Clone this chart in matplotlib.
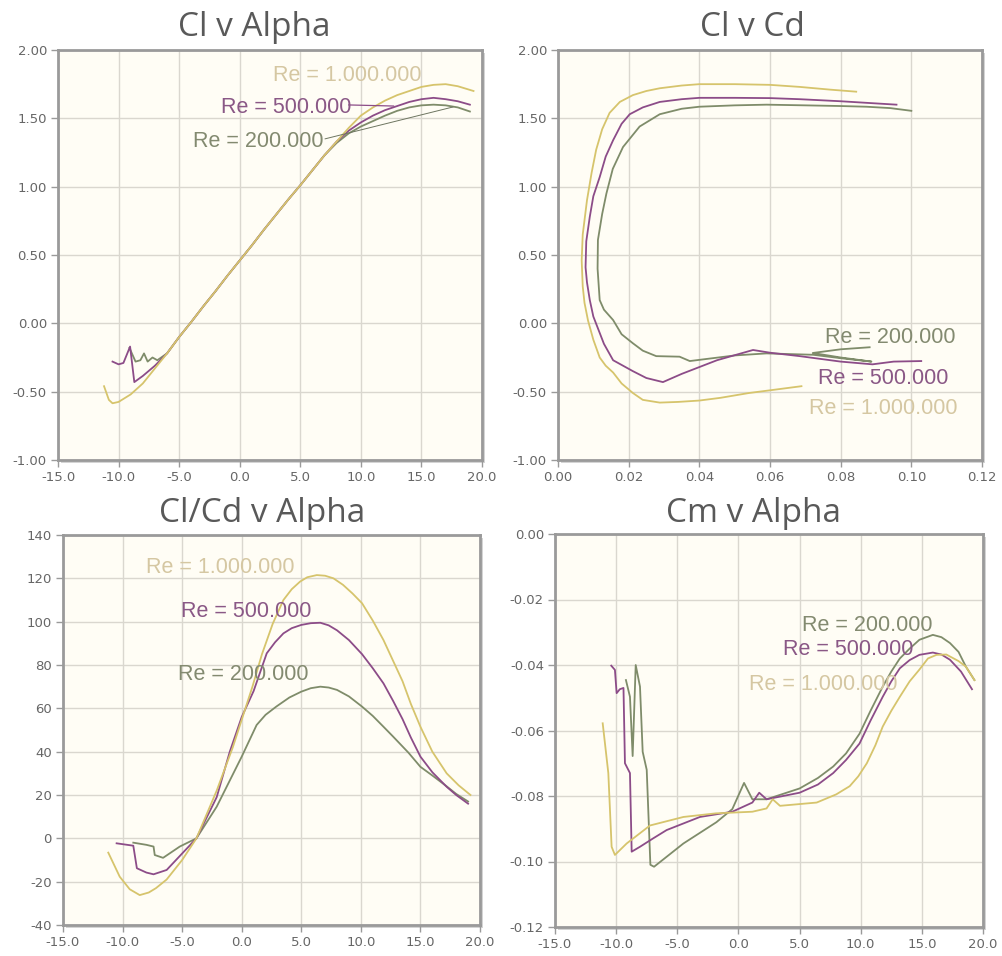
import numpy as np
import matplotlib.pyplot as plt
from matplotlib.patches import Rectangle
from matplotlib.ticker import FormatStrFormatter

# colours of the three Reynolds numbers
c_1m, c_500k, c_200k = '#d6c46c', '#8c4c88', '#7f8c6a'
t_1m, t_500k, t_200k = '#d5c7a2', '#8a5886', '#838a70'
labels = ['Re = 1.000.000', 'Re = 500.000', 'Re = 200.000']

# ---- Cl v Alpha
cl_a_1m = [-11.2, -10.8, -10.5, -10.0, -9.0, -8.0, -7.0, -6.0, -5.0, -4.0, -3.0, -2.0, -1.0, 0.0, 1.0,
           2.0, 3.0, 4.0, 5.0, 6.0, 7.0, 8.0, 9.0, 10.0, 11.0, 12.0, 13.0, 14.0, 15.0, 16.0, 17.0, 18.0, 19.3]
cl_1m = [-0.46, -0.56, -0.585, -0.575, -0.52, -0.44, -0.33, -0.22, -0.10, 0.01, 0.125, 0.235, 0.35, 0.46, 0.57,
         0.685, 0.795, 0.905, 1.01, 1.12, 1.23, 1.33, 1.43, 1.52, 1.58, 1.63, 1.67, 1.70, 1.73, 1.745, 1.75, 1.735, 1.70]
cl_a_500k = [-10.5, -10.0, -9.6, -9.05, -8.7, -8.0, -7.0, -6.0, -5.0, -4.0, -3.0, -2.0, -1.0, 0.0, 1.0,
             2.0, 3.0, 4.0, 5.0, 6.0, 7.0, 8.0, 9.0, 10.0, 11.0, 12.0, 13.0, 14.0, 15.0, 16.0, 17.0, 18.0, 19.0]
cl_500k = [-0.28, -0.30, -0.29, -0.17, -0.43, -0.385, -0.31, -0.22, -0.10, 0.01, 0.125, 0.235, 0.35, 0.46, 0.57,
           0.685, 0.795, 0.905, 1.01, 1.12, 1.23, 1.33, 1.41, 1.47, 1.52, 1.56, 1.59, 1.62, 1.64, 1.65, 1.64, 1.625, 1.60]
cl_a_200k = [-9.1, -8.6, -8.2, -7.9, -7.6, -7.2, -6.8, -6.0, -5.0, -4.0, -3.0, -2.0, -1.0, 0.0, 1.0,
             2.0, 3.0, 4.0, 5.0, 6.0, 7.0, 8.0, 9.0, 10.0, 11.0, 12.0, 13.0, 14.0, 15.0, 16.0, 17.0, 18.0, 19.0]
cl_200k = [-0.18, -0.28, -0.27, -0.22, -0.28, -0.25, -0.27, -0.22, -0.10, 0.01, 0.125, 0.235, 0.35, 0.46, 0.57,
           0.685, 0.795, 0.905, 1.01, 1.12, 1.23, 1.32, 1.39, 1.44, 1.48, 1.52, 1.555, 1.58, 1.595, 1.60, 1.595, 1.58, 1.55]

# ---- Cl v Cd
cd_1m = [0.0689, 0.060, 0.054, 0.046, 0.040, 0.034, 0.0288, 0.024, 0.0212, 0.018, 0.0156, 0.0135, 0.0118, 0.0100,
         0.0085, 0.0075, 0.0070, 0.0067, 0.0070, 0.0082, 0.0095, 0.0108, 0.0125, 0.0146, 0.0175, 0.0212, 0.0250,
         0.0288, 0.035, 0.040, 0.050, 0.060, 0.0684, 0.077, 0.0844]
cd_cl_1m = [-0.46, -0.49, -0.51, -0.545, -0.565, -0.575, -0.58, -0.56, -0.51, -0.44, -0.36, -0.31, -0.25, -0.12,
            0.02, 0.15, 0.27, 0.46, 0.65, 0.90, 1.10, 1.27, 1.42, 1.54, 1.62, 1.67, 1.70,
            1.72, 1.74, 1.75, 1.75, 1.745, 1.73, 1.71, 1.695]
cd_500k = [0.1028, 0.095, 0.089, 0.080, 0.0684, 0.060, 0.0552, 0.045, 0.035, 0.0297, 0.025, 0.0212, 0.0156, 0.0130,
           0.0118, 0.010, 0.009, 0.0082, 0.0078, 0.0080, 0.0090, 0.0100, 0.0118, 0.0135, 0.0156, 0.018, 0.0203,
           0.024, 0.0288, 0.035, 0.040, 0.050, 0.060, 0.0684, 0.080, 0.0958]
cd_cl_500k = [-0.276, -0.28, -0.30, -0.28, -0.24, -0.215, -0.195, -0.27, -0.37, -0.43, -0.40, -0.35, -0.27, -0.15,
              -0.07, 0.05, 0.17, 0.30, 0.41, 0.60, 0.78, 0.93, 1.07, 1.22, 1.34, 1.46, 1.53,
              1.58, 1.62, 1.64, 1.65, 1.65, 1.648, 1.64, 1.625, 1.60]
cd_200k = [0.0882, 0.080, 0.0721, 0.080, 0.0887, 0.080, 0.0722, 0.059, 0.050, 0.0373, 0.0344, 0.0278, 0.0240,
           0.0212, 0.018, 0.0156, 0.0130, 0.0118, 0.0112, 0.0113, 0.0125, 0.0137, 0.0155, 0.0184, 0.0231, 0.0288,
           0.035, 0.040, 0.050, 0.059, 0.070, 0.080, 0.0873, 0.094, 0.100]
cd_cl_200k = [-0.175, -0.19, -0.217, -0.25, -0.28, -0.255, -0.23, -0.22, -0.235, -0.276, -0.244, -0.24, -0.20,
              -0.146, -0.08, 0.024, 0.10, 0.17, 0.40, 0.61, 0.80, 0.95, 1.13, 1.29, 1.44, 1.53,
              1.57, 1.585, 1.595, 1.60, 1.595, 1.59, 1.585, 1.575, 1.555]

# ---- Cl/Cd v Alpha
ld_a_1m = [-11.2, -10.24, -9.4, -8.56, -7.8, -7.2, -6.3, -5.0, -3.8, -2.1, -0.75, 0.9, 1.7, 2.6, 3.5, 4.2, 4.9,
           5.5, 6.3, 7.0, 7.7, 8.5, 9.3, 10.1, 11.0, 11.9, 12.7, 13.5, 14.2, 15.0, 16.0, 17.2, 18.2, 19.2]
ld_1m = [-6.6, -17.7, -23.5, -26.2, -25.0, -23.0, -19.0, -10.0, 0.0, 22.0, 42.0, 70.0, 85.0, 99.0, 110.0, 115.0,
         118.5, 120.5, 121.5, 121.2, 120.0, 117.0, 113.0, 108.5, 100.5, 91.5, 82.0, 72.5, 62.0, 51.5, 40.0, 30.0,
         24.5, 20.0]
ld_a_500k = [-10.5, -9.1, -8.8, -8.0, -7.4, -6.3, -5.0, -3.8, -2.1, -1.0, 0.0, 1.0, 2.1, 2.8, 3.5, 4.2, 5.0,
             5.8, 6.6, 7.3, 8.0, 9.0, 10.1, 11.0, 11.9, 12.7, 13.5, 14.2, 15.0, 16.0, 17.2, 18.0, 19.0]
ld_500k = [-2.3, -3.4, -13.8, -15.8, -16.6, -14.6, -7.0, 0.0, 19.0, 40.0, 56.0, 68.0, 85.4, 90.5, 94.6, 97.0,
           98.5, 99.3, 99.5, 98.3, 96.0, 91.5, 85.0, 78.5, 71.5, 63.5, 55.0, 46.5, 37.7, 30.5, 23.8, 20.0, 16.0]
ld_a_200k = [-9.1, -8.0, -7.4, -7.3, -6.6, -5.2, -3.8, -2.1, 0.0, 1.25, 2.0, 2.9, 4.0, 5.0, 5.8, 6.6, 7.3, 8.0,
             9.0, 10.1, 11.0, 11.9, 12.7, 14.0, 15.0, 16.0, 17.2, 18.0, 19.0]
ld_200k = [-2.0, -3.0, -3.8, -7.7, -9.0, -3.8, 0.0, 14.6, 37.7, 52.3, 57.0, 60.8, 65.0, 67.7, 69.3, 70.0, 69.6,
           68.5, 65.5, 60.8, 56.5, 51.5, 47.0, 39.5, 33.0, 29.0, 24.0, 20.5, 17.0]

# ---- Cm v Alpha
cm_a_1m = [-11.1, -10.64, -10.37, -10.1, -9.14, -7.23, -4.5, -1.85, 1.14, 2.3, 2.8, 3.4, 6.4, 8.0, 9.1, 9.8,
           10.5, 11.2, 11.8, 12.5, 13.2, 14.0, 14.8, 15.5, 16.2, 17.0, 17.3, 18.0, 18.6, 19.3]
cm_1m = [-0.0578, -0.073, -0.0955, -0.098, -0.0945, -0.089, -0.0864, -0.0853, -0.0848, -0.0838, -0.081, -0.083,
         -0.082, -0.0795, -0.077, -0.074, -0.070, -0.0645, -0.0588, -0.054, -0.0497, -0.045, -0.0414, -0.038,
         -0.0369, -0.0368, -0.0374, -0.0388, -0.0405, -0.0446]
cm_a_500k = [-10.4, -10.1, -9.96, -9.7, -9.4, -9.28, -8.87, -8.73, -8.05, -7.0, -5.87, -3.15, -0.5, 1.14, 1.7,
             2.3, 5.0, 6.5, 7.75, 8.8, 9.9, 10.8, 11.8, 12.5, 13.2, 14.0, 14.8, 15.9, 16.6, 17.3, 18.2, 19.1]
cm_500k = [-0.0402, -0.0415, -0.0486, -0.0474, -0.047, -0.070, -0.073, -0.097, -0.0955, -0.093, -0.0904,
           -0.0864, -0.0848, -0.082, -0.079, -0.081, -0.079, -0.0765, -0.073, -0.069, -0.064, -0.057, -0.0497,
           -0.045, -0.041, -0.0385, -0.0369, -0.0362, -0.0368, -0.0384, -0.042, -0.0474]
cm_a_200k = [-9.2, -8.87, -8.65, -8.4, -8.05, -7.83, -7.5, -7.2, -6.9, -4.5, -1.8, -0.5, 0.46, 1.14, 2.3, 5.0,
             6.5, 7.75, 8.8, 9.9, 10.8, 11.8, 12.5, 13.2, 14.0, 14.8, 15.9, 16.6, 17.3, 18.0, 18.6, 19.3]
cm_200k = [-0.0446, -0.0497, -0.0678, -0.040, -0.0466, -0.0665, -0.072, -0.101, -0.1016, -0.0945, -0.088,
           -0.084, -0.076, -0.081, -0.081, -0.0777, -0.0745, -0.071, -0.067, -0.061, -0.054, -0.0466, -0.042,
           -0.038, -0.035, -0.0323, -0.0308, -0.0315, -0.0333, -0.036, -0.0405, -0.0446]

fig = plt.figure(figsize=(10.02, 9.56), dpi=100)
W, H = 1002.0, 956.0


def make_ax(left, top, right, bottom):
    rect = [left / W, 1 - bottom / H, (right - left) / W, (bottom - top) / H]
    # soft shadow right/bottom of the frame
    sh = Rectangle((rect[0] + 3 / W, rect[1] - 3 / H), rect[2], rect[3], transform=fig.transFigure,
                   facecolor='#d4d4d4', edgecolor='none', zorder=-1)
    fig.patches.append(sh)
    ax = fig.add_axes(rect)
    ax.set_zorder(1)
    ax.set_facecolor('#fffdf5')
    for s in ax.spines.values():
        s.set_color('#9a9a9a')
        s.set_linewidth(2)
    ax.grid(True, color='#dad7cf', lw=1)
    ax.set_axisbelow(True)
    ax.tick_params(direction='out', length=5, width=1, color='#9a9a9a', labelcolor='#666666',
                   labelsize=9.5, pad=3)
    return ax


def title(x, y, s):
    fig.text(x / W, 1 - y / H, s, ha='center', va='center', fontsize=24, color='#595959', family='Open Sans')


lw = 1.3
lab_kw = dict(ha='center', va='center', fontsize=15.5, family='Liberation Sans')

# Cl v Alpha
ax1 = make_ax(58, 50, 482, 460)
ax1.plot(cl_a_200k, cl_200k, color=c_200k, lw=lw)
ax1.plot(cl_a_500k, cl_500k, color=c_500k, lw=lw)
ax1.plot(cl_a_1m, cl_1m, color=c_1m, lw=lw)
ax1.set_xlim(-15, 20)
ax1.set_ylim(-1, 2)
ax1.set_xticks(np.arange(-15, 21, 5))
ax1.set_yticks(np.arange(-1, 2.01, 0.5))
ax1.xaxis.set_major_formatter(FormatStrFormatter('%.1f'))
ax1.yaxis.set_major_formatter(FormatStrFormatter('%.2f'))
ax1.text(8.86, 1.817, labels[0], color=t_1m, **lab_kw)
ax1.text(3.83, 1.576, labels[1], color=t_500k, **lab_kw)
ax1.text(1.52, 1.327, labels[2], color=t_200k, **lab_kw)
ax1.plot([9.0, 12.7], [1.598, 1.59], color=c_500k, lw=0.9)
ax1.plot([7.05, 17.6], [1.35, 1.583], color='#6d7560', lw=0.7)
title(254, 27, 'Cl v Alpha')

# Cl v Cd
ax2 = make_ax(558, 50, 982, 460)
ax2.plot(cd_200k, cd_cl_200k, color=c_200k, lw=lw)
ax2.plot(cd_500k, cd_cl_500k, color=c_500k, lw=lw)
ax2.plot(cd_1m, cd_cl_1m, color=c_1m, lw=lw)
ax2.set_xlim(0, 0.12)
ax2.set_ylim(-1, 2)
ax2.set_xticks(np.arange(0, 0.121, 0.02))
ax2.set_yticks(np.arange(-1, 2.01, 0.5))
ax2.xaxis.set_major_formatter(FormatStrFormatter('%.2f'))
ax2.yaxis.set_major_formatter(FormatStrFormatter('%.2f'))
ax2.text(0.094, -0.107, labels[2], color=t_200k, **lab_kw)
ax2.text(0.092, -0.40, labels[1], color=t_500k, **lab_kw)
ax2.text(0.092, -0.62, labels[0], color=t_1m, **lab_kw)
title(752, 27, 'Cl v Cd')

# Cl/Cd v Alpha
ax3 = make_ax(63, 535, 480, 925)
ax3.plot(ld_a_200k, ld_200k, color=c_200k, lw=lw)
ax3.plot(ld_a_500k, ld_500k, color=c_500k, lw=lw)
ax3.plot(ld_a_1m, ld_1m, color=c_1m, lw=lw)
ax3.set_xlim(-15, 20)
ax3.set_ylim(-40, 140)
ax3.set_xticks(np.arange(-15, 21, 5))
ax3.set_yticks(np.arange(-40, 141, 20))
ax3.xaxis.set_major_formatter(FormatStrFormatter('%.1f'))
ax3.yaxis.set_major_formatter(FormatStrFormatter('%d'))
ax3.text(-1.82, 125.2, labels[0], color=t_1m, **lab_kw)
ax3.text(0.36, 104.9, labels[1], color=t_500k, **lab_kw)
ax3.text(0.11, 75.4, labels[2], color=t_200k, **lab_kw)
title(262, 513, 'Cl/Cd v Alpha')

# Cm v Alpha
ax4 = make_ax(555, 534, 983, 927)
ax4.plot(cm_a_200k, cm_200k, color=c_200k, lw=lw)
ax4.plot(cm_a_500k, cm_500k, color=c_500k, lw=lw)
ax4.plot(cm_a_1m, cm_1m, color=c_1m, lw=lw)
ax4.set_xlim(-15, 20)
ax4.set_ylim(-0.12, 0)
ax4.set_xticks(np.arange(-15, 21, 5))
ax4.set_yticks(np.arange(-0.12, 0.001, 0.02))
ax4.xaxis.set_major_formatter(FormatStrFormatter('%.1f'))
ax4.yaxis.set_major_formatter(FormatStrFormatter('%.2f'))
ax4.text(10.51, -0.0278, labels[2], color=t_200k, **lab_kw)
ax4.text(8.96, -0.0354, labels[1], color=t_500k, **lab_kw)
ax4.text(6.92, -0.0461, labels[0], color=t_1m, **lab_kw)
title(753, 513, 'Cm v Alpha')

fig.savefig('out.png', dpi=100, facecolor='white')
